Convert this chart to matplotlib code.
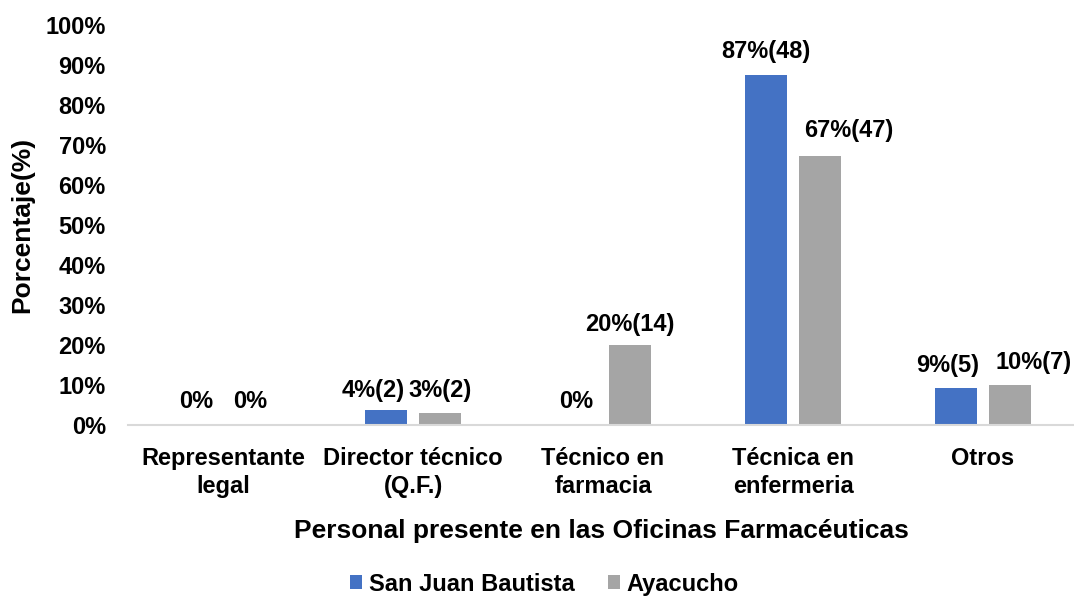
import numpy as np
import matplotlib
matplotlib.use('Agg')
import matplotlib.pyplot as plt
from matplotlib.ticker import PercentFormatter

plt.rcParams['font.family'] = ['Liberation Sans', 'DejaVu Sans']
plt.rcParams['font.weight'] = 'bold'

# data
categories = ['Representante\nlegal', 'Director técnico\n(Q.F.)', 'Técnico en\nfarmacia',
              'Técnica en\nenfermeria', 'Otros']
series_names = ['San Juan Bautista', 'Ayacucho']
sjb_pct = [0.0, 3.6, 0.0, 87.3, 9.1]
sjb_n = [0, 2, 0, 48, 5]
aya_pct = [0.0, 2.9, 20.0, 67.1, 10.0]
aya_n = [0, 2, 14, 47, 7]

blue = '#4472C4'
gray = '#A5A5A5'

# label nudges in pixels (dx, baseline gap above bar top)
sjb_off = [(0, 17), (-13, 13), (0, 17), (0, 17), (-8, 16)]
aya_off = [(0, 17), (0, 16), (0, 14), (29, 19), (24, 16)]


def make_label(p, n):
    if n == 0:
        return '0%'
    return f'{p:.0f}%({n})'


fig = plt.figure(figsize=(10.74, 5.99), dpi=100)
ax = fig.add_axes([128 / 1074, 174.5 / 599, 950 / 1074, 400 / 599])

x = np.arange(len(categories))
w = 0.221
shift = 0.142

sjb = np.array(sjb_pct) / 100
aya = np.array(aya_pct) / 100
b1 = ax.bar(x - shift, sjb, w, color=blue, label=series_names[0])
b2 = ax.bar(x + shift, aya, w, color=gray, label=series_names[1])

for bars, vals, pct, cnt, offs in [(b1, sjb, sjb_pct, sjb_n, sjb_off),
                                    (b2, aya, aya_pct, aya_n, aya_off)]:
    for rect, v, p, n, (dx, dy) in zip(bars, vals, pct, cnt, offs):
        ax.annotate(make_label(p, n), (rect.get_x() + rect.get_width() / 2, v),
                    xytext=(dx, dy), textcoords='offset pixels',
                    ha='center', va='baseline', fontsize=17, fontweight='bold')

ax.set_xlim(-0.5, len(categories) - 0.5)
ax.set_ylim(0, 1.0)
ax.set_yticks(np.arange(0, 1.01, 0.1))
ax.yaxis.set_major_formatter(PercentFormatter(1.0, decimals=0))
ax.set_xticks(x)
ax.set_xticklabels(categories, fontsize=17, fontweight='bold', linespacing=1.3)
ax.tick_params(axis='y', length=0, pad=16, labelsize=17)
ax.tick_params(axis='x', length=0, pad=16)

for s in ['top', 'right', 'left']:
    ax.spines[s].set_visible(False)
ax.spines['bottom'].set_color('#D9D9D9')
ax.spines['bottom'].set_linewidth(1.5)

ax.set_ylabel('Porcentaje(%)', fontsize=19, fontweight='bold', va='center')
ax.yaxis.set_label_coords(-0.1116, 0.5)
ax.set_xlabel('Personal presente en las Oficinas Farmacéuticas', fontsize=19, fontweight='bold')
ax.xaxis.set_label_coords(0.498, -0.266)
ax.xaxis.label.set_va('center')

fig.legend(loc='center', bbox_to_anchor=(0.507, 0.025), ncol=2, frameon=False,
           prop={'size': 17, 'weight': 'bold'}, handlelength=0.5, handleheight=0.5,
           handletextpad=0.3, columnspacing=1.4)

fig.savefig('out.png', dpi=100)
